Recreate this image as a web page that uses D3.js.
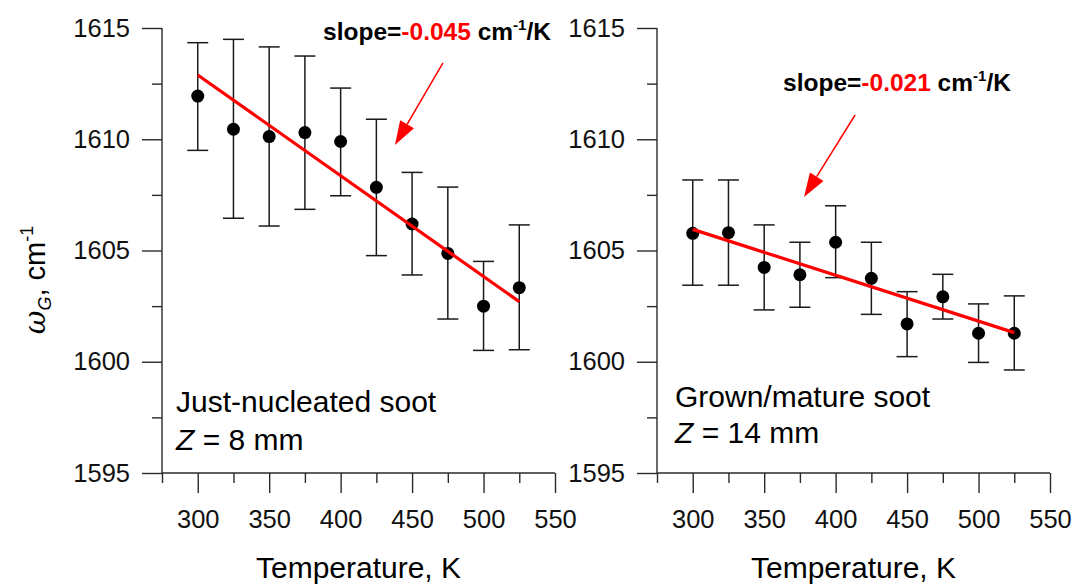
<!DOCTYPE html>
<html><head><meta charset="utf-8">
<script src="https://cdn.jsdelivr.net/npm/d3@7"></script>
<style>
html,body{margin:0;padding:0;background:#fff;}
svg{display:block;font-family:"Liberation Sans",Arial,sans-serif;}
</style></head><body>
<svg id="c" width="1073" height="585"></svg>
<script>
// ---- data ----
const temps = [300,325,350,375,400,425,450,475,500,525];
const leftVals = [1611.94,1610.45,1610.12,1610.30,1609.90,1607.84,1606.19,1604.87,1602.50,1603.33];
const leftHi   = [1614.34,1614.49,1614.15,1613.74,1612.30,1610.90,1608.51,1607.85,1604.51,1606.15];
const leftLo   = [1609.50,1606.45,1606.10,1606.85,1607.46,1604.77,1603.90,1601.92,1600.51,1600.54];
const leftFitX = [300,525];
const leftFitY = [1612.89,1602.70];
const rightVals = [1605.77,1605.80,1604.24,1603.91,1605.37,1603.75,1601.70,1602.92,1601.28,1601.28];
const rightHi   = [1608.17,1608.17,1606.15,1605.37,1607.01,1605.37,1603.15,1603.93,1602.60,1602.96];
const rightLo   = [1603.44,1603.44,1602.33,1602.45,1603.78,1602.13,1600.23,1601.92,1599.97,1599.63];
const rightFitX = [300,525];
const rightFitY = [1605.95,1601.31];
const xMajorTicks = [300,350,400,450,500,550];
const xMinorTicks = [275,325,375,425,475,525];
const yMajorTicks = [1595,1600,1605,1610,1615];
const yMinorTicks = [1597.5,1602.5,1607.5,1612.5];
const xDomain = [275,550];
const yDomain = [1595,1615];
const slopeLeft = "-0.045";
const slopeRight = "-0.021";
const labelLeft = ["Just-nucleated soot","8 mm"];
const labelRight = ["Grown/mature soot","14 mm"];
const xTitle = "Temperature, K";

const svg = d3.select("#c");
const AX = "#2a2a2a";

function panel(o){
  const x = d3.scaleLinear().domain(xDomain).range([o.x0, o.x1]);
  const y = d3.scaleLinear().domain(yDomain).range([473, 28]);
  const g = svg.append("g");

  // axes
  g.append("g").attr("transform",`translate(${o.x0},0)`)
    .call(d3.axisLeft(y).tickValues(yMajorTicks).tickSize(20).tickPadding(12).tickFormat(d3.format("d")));
  g.append("g").attr("transform",`translate(${o.x0},0)`)
    .call(d3.axisLeft(y).tickValues(yMinorTicks).tickSize(10).tickFormat(""));
  g.append("g").attr("transform",`translate(0,473)`)
    .call(d3.axisBottom(x).tickValues(xMajorTicks).tickSize(20).tickPadding(17).tickFormat(d3.format("d")));
  g.append("g").attr("transform",`translate(0,473)`)
    .call(d3.axisBottom(x).tickValues(xMinorTicks).tickSize(10).tickFormat(""));
  g.selectAll(".tick line").attr("stroke",AX).attr("stroke-width",1.4);
  g.selectAll(".tick text").attr("font-size",25.5).attr("fill","#111").attr("font-family","Liberation Sans, Arial, sans-serif");
  g.selectAll(".domain").remove();
  g.append("line").attr("x1",o.x0).attr("x2",o.x0).attr("y1",y(1615)).attr("y2",473).attr("stroke",AX).attr("stroke-width",1.4);
  g.append("line").attr("x1",o.x0).attr("x2",x(550)).attr("y1",473).attr("y2",473).attr("stroke",AX).attr("stroke-width",1.4);

  // error bars
  const eb = g.append("g").attr("stroke","#1a1a1a").attr("stroke-width",1.5).attr("fill","none");
  temps.forEach((t,i)=>{
    const cx = x(t);
    eb.append("line").attr("x1",cx).attr("x2",cx).attr("y1",y(o.hi[i])).attr("y2",y(o.lo[i]));
    eb.append("line").attr("x1",cx-10.5).attr("x2",cx+10.5).attr("y1",y(o.hi[i])).attr("y2",y(o.hi[i]));
    eb.append("line").attr("x1",cx-10.5).attr("x2",cx+10.5).attr("y1",y(o.lo[i])).attr("y2",y(o.lo[i]));
  });
  // points
  g.append("g").selectAll("circle").data(temps).join("circle")
    .attr("cx",d=>x(d)).attr("cy",(d,i)=>y(o.vals[i])).attr("r",6.5).attr("fill","#000");
  // fit line
  g.append("line").attr("x1",x(o.fitX[0])).attr("y1",y(o.fitY[0])).attr("x2",x(o.fitX[1])).attr("y2",y(o.fitY[1]))
    .attr("stroke","#f00").attr("stroke-width",3.2);

  // arrow
  const ax1=x(o.arrow[0]), ay1=y(o.arrow[1]), ax2=x(o.arrow[2]), ay2=y(o.arrow[3]);
  const ang = Math.atan2(ay2-ay1, ax2-ax1);
  const L=24, W=8;
  const bx = ax2 - L*Math.cos(ang), by = ay2 - L*Math.sin(ang);
  g.append("line").attr("x1",ax1).attr("y1",ay1).attr("x2",bx).attr("y2",by).attr("stroke","#f00").attr("stroke-width",1.5);
  g.append("path").attr("fill","#f00")
    .attr("d",`M${ax2},${ay2}L${bx - W*Math.sin(ang)},${by + W*Math.cos(ang)}L${bx + W*Math.sin(ang)},${by - W*Math.cos(ang)}Z`);

  // slope text
  const st = g.append("text").attr("x",x(o.slopePos[0])).attr("y",y(o.slopePos[1]))
    .attr("font-size",24.5).attr("font-weight","bold").attr("fill","#000");
  st.append("tspan").text("slope=");
  st.append("tspan").attr("fill","#f00").text(o.slope);
  st.append("tspan").text(" cm");
  st.append("tspan").attr("font-size",15).attr("dy",-10).text("-1");
  st.append("tspan").attr("dy",10).text("/K");

  // sample labels
  g.append("text").attr("x",x(o.labPos[0])).attr("y",y(o.labPos[1])).attr("font-size",30).attr("fill","#000").text(o.lab[0]);
  const z = g.append("text").attr("x",x(o.labPos[0])).attr("y",y(o.labPos[2])).attr("font-size",30).attr("fill","#000");
  z.append("tspan").attr("font-style","italic").text("Z");
  z.append("tspan").text(" = " + o.lab[1]);

  // x title
  g.append("text").attr("x",(o.x0+x(550))/2).attr("y",578).attr("text-anchor","middle").attr("font-size",30).attr("fill","#000").text(xTitle);
}

panel({x0:162,x1:555,vals:leftVals,hi:leftHi,lo:leftLo,fitX:leftFitX,fitY:leftFitY,
  arrow:[471.6,1613.43,438,1609.74],slope:slopeLeft,slopePos:[387.7,1614.46],
  lab:labelLeft,labPos:[284.8,1597.72,1596.03]});
panel({x0:657,x1:1050,vals:rightVals,hi:rightHi,lo:rightLo,fitX:rightFitX,fitY:rightFitY,
  arrow:[413.6,1611.09,377.9,1607.40],slope:slopeRight,slopePos:[363.2,1612.18],
  lab:labelRight,labPos:[287.6,1597.97,1596.35]});

// y title
const yt = svg.append("text").attr("transform","translate(45,280) rotate(-90)").attr("text-anchor","middle")
  .attr("font-size",29).attr("fill","#000");
yt.append("tspan").attr("font-style","italic").attr("font-family","DejaVu Serif, serif").text("ω");
yt.append("tspan").attr("font-style","italic").attr("font-size",18).attr("dy",6).text("G");
yt.append("tspan").attr("dy",-6).text(", cm");
yt.append("tspan").attr("font-size",18).attr("dy",-12).text("-1");
</script></body></html>
